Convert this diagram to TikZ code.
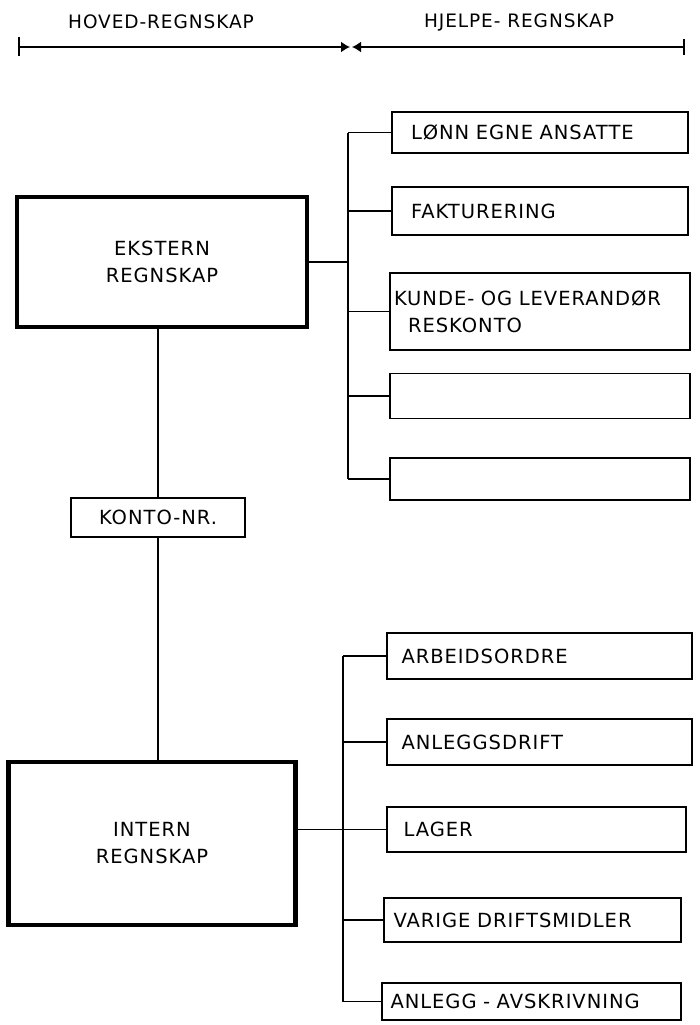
\documentclass[tikz,border=0pt]{standalone}
\usepackage{fontspec}
\setmainfont{DejaVu Sans}[LetterSpace=5]
\usetikzlibrary{arrows.meta}
\begin{document}
\begin{tikzpicture}[x=1pt,y=-1pt,
  lbl/.style={font=\fontsize{19.5}{27}\selectfont},
  hdr/.style={font=\fontsize{18.5}{22}\selectfont},
  mainbox/.style={draw,line width=4.5pt,align=center,lbl},
  subbox/.style={draw,line width=1.6pt,lbl,align=left,text width=#1,inner xsep=0pt},
  subbox/.default=258pt,
  link/.style={line width=1.6pt},
]
\useasboundingbox (0,0) rectangle (700,1025);

% scale line across the top
\coordinate (dl) at (19,47);
\coordinate (dr) at (684,47);
\coordinate (dm) at (351,47);
\node[hdr] (hoved) at (161,22) {HOVED-REGNSKAP};
\node[hdr] (hjelpe) at (519,22) {HJELPE- REGNSKAP};
\draw[link,-{Latex[length=9pt,width=11pt]}] (dl) -- ([xshift=-1pt]dm);
\draw[link,-{Latex[length=9pt,width=11pt]}] (dr) -- ([xshift=1pt]dm);
\draw[link] ([yshift=-9pt]dl) -- ([yshift=10pt]dl);
\draw[link] ([yshift=-8pt]dr) -- ([yshift=8pt]dr);

% main ledgers
\node[mainbox,minimum width=290pt,minimum height=130pt] (ext) at (162,262)
  {EKSTERN\\REGNSKAP};
\node[draw,link,lbl,minimum width=174pt,minimum height=39pt] (konto) at (158,517.5)
  {KONTO-NR.};
\node[mainbox,minimum width=287pt,minimum height=163pt] (int) at (152,843.5)
  {INTERN\\REGNSKAP};

% sub-ledgers of the external ledger
\node[subbox,minimum width=296pt,minimum height=41pt] (r1) at (540,132.5)
  {LØNN EGNE ANSATTE};
\node[subbox,minimum width=296pt,minimum height=48pt] (r2) at (540,211)
  {FAKTURERING};
\node[subbox=292pt,minimum width=300pt,minimum height=77pt] (r3) at (540,311.5)
  {KUNDE- OG LEVERANDØR\\\hspace*{14pt}RESKONTO};
\node[subbox,minimum width=300pt,minimum height=45pt] (r4) at (540,396) {};
\node[subbox,minimum width=300pt,minimum height=42pt] (r5) at (540,479) {};

% sub-ledgers of the internal ledger
\node[subbox=276pt,minimum width=305pt,minimum height=46pt] (l1) at (539.5,656)
  {ARBEIDSORDRE};
\node[subbox=276pt,minimum width=305pt,minimum height=46pt] (l2) at (539.5,742)
  {ANLEGGSDRIFT};
\node[subbox=266pt,minimum width=299pt,minimum height=45pt] (l3) at (536.5,829.5)
  {LAGER};
\node[subbox=278pt,minimum width=297pt,minimum height=44pt] (l4) at (532.5,920)
  {VARIGE DRIFTSMIDLER};
\node[subbox=282pt,minimum width=299pt,minimum height=37pt] (l5) at (531.5,1001.5)
  {ANLEGG - AVSKRIVNING};

% upper tree
\coordinate (ut1) at (348,0);
\draw[link] (r1.west -| ut1) -- (r5.west -| ut1);
\foreach \b in {r1,r2,r3,r4,r5} \draw[link] (\b.west -| ut1) -- (\b.west);
\draw[link] (ext.east) -- (ext.east -| ut1);

% lower tree
\coordinate (lt1) at (343,0);
\draw[link] (l1.west -| lt1) -- (l5.west -| lt1);
\foreach \b in {l1,l2,l4,l5} \draw[link] (\b.west -| lt1) -- (\b.west);
\draw[link] (l3.west -| int.east) -- (l3.west);

% account number link between the two main ledgers
\draw[link] (konto.north) -- (konto.north |- ext.south);
\draw[link] (konto.south) -- (konto.south |- int.north);
\end{tikzpicture}
\end{document}
